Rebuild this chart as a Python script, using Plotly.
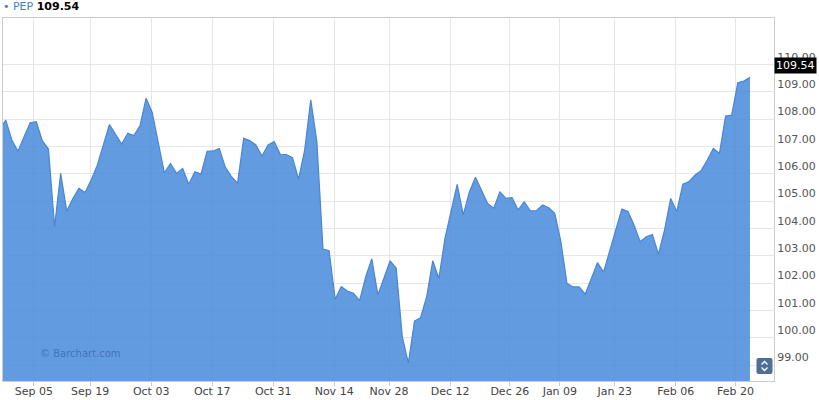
import numpy as np
import pandas as pd
import plotly.graph_objects as go

# ---- data ----
symbol = "PEP"
last_price = 109.54
holidays = ["2016-09-05", "2016-11-24", "2016-12-26", "2017-01-02", "2017-01-16", "2017-02-20"]
first_day = "2016-08-26"
last_day = "2017-02-23"
closes = [
    107.62,
    107.97, 107.24, 106.83, 107.36, 107.87, 107.91, 107.21, 106.91, 104.07, 106.02,
    104.64, 105.10, 105.47, 105.32, 105.78, 106.32, 107.06, 107.81, 107.45, 107.09,
    107.49, 107.40, 107.76, 108.77, 108.26, 107.12, 106.04, 106.38, 106.02, 106.20,
    105.62, 106.08, 105.99, 106.83, 106.84, 106.93, 106.24, 105.90, 105.66, 107.30,
    107.22, 107.06, 106.65, 107.06, 107.18, 106.72, 106.71, 106.59, 105.81, 106.87,
    108.71, 107.18, 103.25, 103.19, 101.41, 101.87, 101.71, 101.63, 101.36, 102.23,
    102.89, 101.57, 102.23, 102.81, 102.55, 100.04, 99.07, 100.61, 100.73, 101.50,
    102.82, 102.17, 103.64, 104.68, 105.62, 104.50, 105.34, 105.88, 105.40, 104.92,
    104.74, 105.34, 105.10, 105.13, 104.68, 104.98, 104.65, 104.65, 104.86, 104.76,
    104.56, 103.52, 101.99, 101.86, 101.86, 101.60, 102.17, 102.75, 102.40, 103.21,
    103.95, 104.71, 104.62, 104.13, 103.52, 103.70, 103.78, 103.06, 103.95, 105.10,
    104.62, 105.62, 105.72, 105.96, 106.12, 106.51, 106.93, 106.75, 108.12, 108.15,
    109.34, 109.40, 109.54,
]
tick_dates = ["2016-09-05", "2016-09-19", "2016-10-03", "2016-10-17", "2016-10-31",
              "2016-11-14", "2016-11-28", "2016-12-12", "2016-12-26", "2017-01-09",
              "2017-01-23", "2017-02-06", "2017-02-20"]
tick_labels = ["Sep 05", "Sep 19", "Oct 03", "Oct 17", "Oct 31", "Nov 14", "Nov 28",
               "Dec 12", "Dec 26", "Jan 09", "Jan 23", "Feb 06", "Feb 20"]
y_ticks = list(range(99, 111))

# ---- ordinal (trading-day) axis ----
days = pd.bdate_range(first_day, last_day, freq="C", holidays=holidays)
n = min(len(days), len(closes))
days = days[:n]
closes = closes[:n]
idx = np.arange(n) - 1.0
pt_ts = (days + pd.Timedelta(hours=12)).astype("int64").to_numpy().astype(float)
tk_ts = pd.to_datetime(tick_dates).astype("int64").to_numpy().astype(float)
tickvals = np.interp(tk_ts, pt_ts, idx)

FONT = "DejaVu Sans"
GRID = "#e6e6e6"
FRAME = "#cccccc"

fig = go.Figure()
fig.add_trace(go.Scatter(
    x=idx, y=closes, mode="lines",
    line=dict(color="#4a86d2", width=1.2),
    fill="tozeroy", fillcolor="rgba(70,137,219,0.85)",
    hoverinfo="skip", showlegend=False,
))

fig.update_layout(
    width=819, height=400,
    margin=dict(l=3, r=45, t=18, b=19, pad=0, autoexpand=False),
    paper_bgcolor="white", plot_bgcolor="white",
    font=dict(family=FONT, size=11, color="#444444"),
    showlegend=False,
    xaxis=dict(
        range=[-0.454, 125.94], tickmode="array", tickvals=tickvals, ticktext=tick_labels,
        showgrid=True, gridcolor=GRID, gridwidth=1, zeroline=False,
        showline=True, linecolor=FRAME, linewidth=1, mirror=True,
        ticks="outside", ticklen=4, tickcolor=FRAME, automargin=False,
        ticklabelstandoff=-4,
        tickfont=dict(family=FONT, size=11, color="#444444"),
    ),
    yaxis=dict(
        range=[98.414, 111.71], side="right", tickmode="array", tickvals=y_ticks,
        tickformat=".2f", showgrid=True, gridcolor=GRID, gridwidth=1, zeroline=False,
        showline=True, linecolor=FRAME, linewidth=1, mirror=True,
        ticks="", ticklabelposition="outside top", automargin=False,
        tickfont=dict(family=FONT, size=11, color="#555555"),
    ),
)

# header legend
fig.add_annotation(
    xref="paper", yref="paper", x=0, y=1, xanchor="left", yanchor="bottom",
    xshift=-2, yshift=3, showarrow=False,
    text=f"<span style='color:#4a7ebb'>\u2022 {symbol}</span> <b>{last_price:.2f}</b>",
    font=dict(family=FONT, size=11, color="#000000"),
)
# last value badge
fig.add_annotation(
    xref="paper", yref="y", x=1, y=last_price, xanchor="left", yanchor="middle",
    yshift=12, showarrow=False, text=f"{last_price:.2f}",
    bgcolor="#000000", borderpad=1,
    font=dict(family=FONT, size=11, color="#ffffff"),
)
# watermark
fig.add_annotation(
    xref="paper", yref="paper", x=0, y=0, xanchor="left", yanchor="bottom",
    xshift=35, yshift=20, showarrow=False, text="\u00a9 Barchart.com",
    font=dict(family=FONT, size=10, color="rgba(40,80,150,0.55)"),
)
# scroll button
fig.add_shape(
    type="path", xref="paper", yref="paper", xsizemode="pixel", ysizemode="pixel",
    xanchor=1, yanchor=0,
    path="M -15.5 7 L -3.5 7 Q -1.5 7 -1.5 9 L -1.5 21 Q -1.5 23 -3.5 23 L -15.5 23 "
         "Q -17.5 23 -17.5 21 L -17.5 9 Q -17.5 7 -15.5 7 Z",
    fillcolor="#4d6f96", line=dict(width=0),
)
fig.add_shape(
    type="path", xref="paper", yref="paper", xsizemode="pixel", ysizemode="pixel",
    xanchor=1, yanchor=0, path="M -12.5 16.5 L -9.5 19.5 L -6.5 16.5",
    line=dict(color="white", width=1.3),
)
fig.add_shape(
    type="path", xref="paper", yref="paper", xsizemode="pixel", ysizemode="pixel",
    xanchor=1, yanchor=0, path="M -12.5 13.5 L -9.5 10.5 L -6.5 13.5",
    line=dict(color="white", width=1.3),
)

fig.write_html(
    "out.html",
    config={"displayModeBar": False},
    post_script="document.body.style.margin='0';document.body.style.padding='0';",
)
